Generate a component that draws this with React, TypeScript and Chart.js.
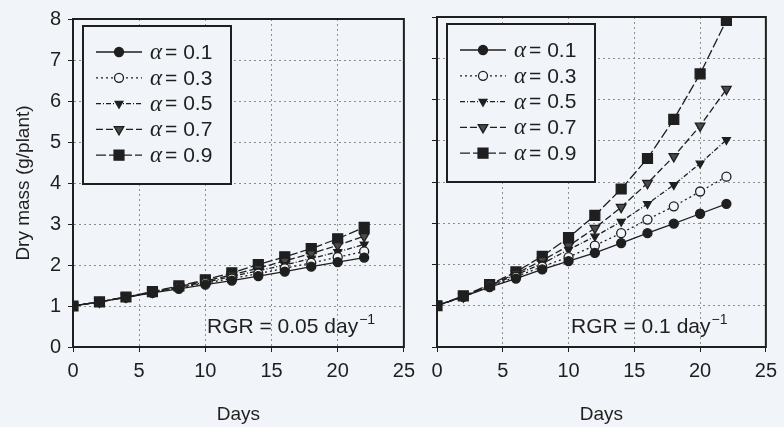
import React, { useEffect, useRef } from 'react';
import { Chart, registerables } from 'chart.js';
import { drawPoint } from 'chart.js/helpers';

Chart.register(...registerables);

// ---------- data ----------
const days = [0, 2, 4, 6, 8, 10, 12, 14, 16, 18, 20, 22];
const alphaLabels = ['0.1', '0.3', '0.5', '0.7', '0.9'];
const xTicks = [0, 5, 10, 15, 20, 25];
const yTicks = [0, 1, 2, 3, 4, 5, 6, 7, 8];

// RGR = 0.05 day-1 (left panel)
const leftA01 = [1, 1.1, 1.21, 1.32, 1.42, 1.52, 1.62, 1.73, 1.84, 1.96, 2.07, 2.18];
const leftA03 = [1, 1.1, 1.21, 1.33, 1.44, 1.56, 1.67, 1.79, 1.92, 2.05, 2.19, 2.33];
const leftA05 = [1, 1.1, 1.21, 1.33, 1.46, 1.58, 1.72, 1.86, 2.0, 2.16, 2.32, 2.5];
const leftA07 = [1, 1.1, 1.22, 1.34, 1.47, 1.61, 1.76, 1.92, 2.1, 2.28, 2.48, 2.7];
const leftA09 = [1, 1.1, 1.22, 1.35, 1.49, 1.64, 1.81, 2.01, 2.2, 2.4, 2.64, 2.92];

// RGR = 0.1 day-1 (right panel)
const rightA01 = [1, 1.22, 1.45, 1.66, 1.88, 2.08, 2.28, 2.52, 2.76, 2.99, 3.23, 3.47];
const rightA03 = [1, 1.22, 1.47, 1.7, 1.95, 2.18, 2.46, 2.76, 3.09, 3.41, 3.77, 4.13];
const rightA05 = [1, 1.22, 1.48, 1.75, 2.02, 2.36, 2.68, 3.04, 3.47, 3.93, 4.45, 5.02];
const rightA07 = [1, 1.22, 1.49, 1.78, 2.1, 2.45, 2.88, 3.39, 3.97, 4.62, 5.36, 6.25];
const rightA09 = [1, 1.24, 1.51, 1.82, 2.2, 2.65, 3.19, 3.83, 4.57, 5.52, 6.62, 7.92];

const leftSeries = [leftA01, leftA03, leftA05, leftA07, leftA09];
const rightSeries = [rightA01, rightA03, rightA05, rightA07, rightA09];
const rgrLeft = '0.05';
const rgrRight = '0.1';

// ---------- styles ----------
const INK = '#1f1f1f';
const BG = '#f1f4f8';
const GRID = '#8e8e8e';
const FAMILY = '"Liberation Sans", Arial, Helvetica, sans-serif';

const seriesStyles = [
  { dash: [] as number[], point: 'circle', r: 4.5, rot: 0, fill: INK },
  { dash: [2, 3], point: 'circle', r: 4.5, rot: 0, fill: BG },
  { dash: [5, 2, 1, 2], point: 'triangle', r: 4.5, rot: 180, fill: INK },
  { dash: [7, 3], point: 'triangle', r: 5.5, rot: 180, fill: '#4a4a4a' },
  { dash: [10, 3], point: 'rect', r: 7, rot: 0, fill: INK },
];

const framePlugin = {
  id: 'frame',
  beforeDatasetsDraw(chart: any) {
    const { ctx, chartArea: a } = chart;
    ctx.save();
    ctx.strokeStyle = INK;
    ctx.lineWidth = 2;
    ctx.strokeRect(a.left, a.top, a.right - a.left, a.bottom - a.top);
    ctx.restore();
  },
};

const legendPlugin = {
  id: 'boxLegend',
  afterDatasetsDraw(chart: any) {
    const { ctx, chartArea: a } = chart;
    const bx = a.left + 10;
    const by = a.top + 7;
    const bw = 148;
    const bh = 158;
    ctx.save();
    ctx.fillStyle = BG;
    ctx.fillRect(bx, by, bw, bh);
    ctx.strokeStyle = INK;
    ctx.lineWidth = 2;
    ctx.strokeRect(bx, by, bw, bh);
    alphaLabels.forEach((lab, i) => {
      const st = seriesStyles[i];
      const y = by + 26 + i * 25.8;
      ctx.save();
      ctx.strokeStyle = INK;
      ctx.lineWidth = 1.3;
      ctx.setLineDash(st.dash);
      ctx.beginPath();
      ctx.moveTo(bx + 13, y);
      ctx.lineTo(bx + 59, y);
      ctx.stroke();
      ctx.restore();
      ctx.save();
      ctx.fillStyle = st.fill;
      ctx.strokeStyle = INK;
      ctx.lineWidth = 1.3;
      drawPoint(ctx, { pointStyle: st.point, radius: st.r, rotation: st.rot, borderWidth: 1.3 } as any, bx + 36, y);
      ctx.restore();
      ctx.fillStyle = INK;
      ctx.textBaseline = 'middle';
      ctx.textAlign = 'left';
      ctx.font = 'italic 23px "Liberation Serif", "DejaVu Serif", serif';
      ctx.fillText('\u03b1', bx + 67, y + 1);
      const aw = ctx.measureText('\u03b1').width;
      ctx.font = '21px ' + FAMILY;
      ctx.fillText('= ' + lab, bx + 67 + aw + 3, y + 1);
    });
    ctx.restore();
  },
};

const rgrPlugin = {
  id: 'rgrNote',
  afterDatasetsDraw(chart: any) {
    const { ctx, chartArea: a } = chart;
    const txt = chart.options.plugins.rgrNote.value;
    const x = a.left + 134;
    const y = a.bottom - 20;
    ctx.save();
    ctx.fillStyle = INK;
    ctx.textBaseline = 'middle';
    ctx.textAlign = 'left';
    ctx.font = '21px ' + FAMILY;
    const main = 'RGR = ' + txt + ' day';
    ctx.fillText(main, x, y);
    const w = ctx.measureText(main).width;
    ctx.font = '14px ' + FAMILY;
    ctx.fillText('\u22121', x + w + 1, y - 7);
    ctx.restore();
  },
};

function buildChart(canvas: HTMLCanvasElement, series: number[][], rgr: string, isLeft: boolean) {
  const datasets = series.map((vals, i) => {
    const st = seriesStyles[i];
    return {
      label: '\u03b1 = ' + alphaLabels[i],
      data: days.map((d, j) => ({ x: d, y: vals[j] })),
      borderColor: INK,
      borderWidth: 1.3,
      borderDash: st.dash,
      pointStyle: st.point,
      pointRadius: st.r,
      pointRotation: st.rot,
      pointBackgroundColor: st.fill,
      pointBorderColor: INK,
      pointBorderWidth: 1.3,
      tension: 0,
      fill: false,
    };
  });
  return new Chart(canvas, {
    type: 'line',
    data: { datasets },
    plugins: [framePlugin, legendPlugin, rgrPlugin],
    options: {
      animation: false,
      responsive: false,
      maintainAspectRatio: false,
      layout: { padding: { left: 0, right: isLeft ? 13 : 16, top: 17, bottom: 0 } },
      plugins: {
        legend: { display: false },
        tooltip: { enabled: false },
        rgrNote: { value: rgr },
      } as any,
      scales: {
        x: {
          type: 'linear',
          min: 0,
          max: 25,
          afterBuildTicks: (s: any) => {
            s.ticks = xTicks.map((v) => ({ value: v }));
          },
          afterFit: (s: any) => {
            s.height = 80;
          },
          grid: { color: GRID, lineWidth: 1, tickColor: INK, tickLength: 5 },
          border: { display: true, color: INK, width: 2, dash: [2, 3] },
          ticks: { color: INK, font: { family: FAMILY, size: 20 }, padding: 7, maxRotation: 0, autoSkip: false },
          title: { display: true, text: 'Days', color: INK, font: { family: FAMILY, size: 19 }, padding: { top: 0, bottom: 1 } },
        },
        y: {
          type: 'linear',
          min: 0,
          max: 8,
          afterBuildTicks: (s: any) => {
            s.ticks = yTicks.map((v) => ({ value: v }));
          },
          afterFit: (s: any) => {
            s.width = isLeft ? 73 : 15;
          },
          grid: { color: GRID, lineWidth: 1, tickColor: INK, tickLength: 5 },
          border: { display: true, color: INK, width: 2, dash: [2, 3] },
          ticks: { display: isLeft, color: INK, font: { family: FAMILY, size: 20 }, padding: 7 },
          title: {
            display: isLeft,
            text: 'Dry mass (g/plant)',
            color: INK,
            font: { family: FAMILY, size: 19 },
            padding: { top: 12, bottom: 0 },
          },
        },
      },
    } as any,
  });
}

export default function App() {
  const leftRef = useRef<HTMLCanvasElement>(null);
  const rightRef = useRef<HTMLCanvasElement>(null);

  useEffect(() => {
    const c1 = buildChart(leftRef.current!, leftSeries, rgrLeft, true);
    const c2 = buildChart(rightRef.current!, rightSeries, rgrRight, false);
    return () => {
      c1.destroy();
      c2.destroy();
    };
  }, []);

  return (
    <div style={{ position: 'absolute', left: 0, top: 0, width: 784, height: 427, background: BG, overflow: 'hidden' }}>
      <canvas ref={leftRef} width={422} height={427} style={{ position: 'absolute', left: 0, top: 0, width: 422, height: 427 }} />
      <canvas ref={rightRef} width={362} height={427} style={{ position: 'absolute', left: 422, top: 0, width: 362, height: 427 }} />
    </div>
  );
}
